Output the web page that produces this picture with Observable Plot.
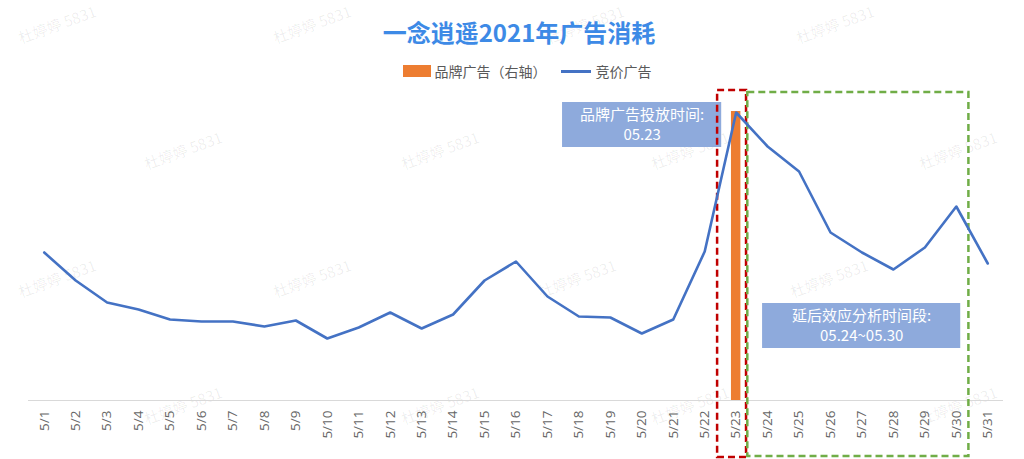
<!DOCTYPE html>
<html>
<head>
<meta charset="utf-8">
<script src="https://cdn.jsdelivr.net/npm/d3@7"></script>
<script src="https://cdn.jsdelivr.net/npm/@observablehq/plot@0.6"></script>
<style>
  html, body { margin: 0; padding: 0; background: #fff; }
  body { width: 1024px; height: 459px; position: relative; overflow: hidden;
         font-family: "Open Sans", "Noto Sans CJK SC", sans-serif; }
  #wm { position: absolute; left: 0; top: 0; width: 1024px; height: 459px; pointer-events: none; z-index: 0; }
  .wm { position: absolute; font-size: 15px; color: rgba(0,0,0,0.07); transform: translate(-50%,-50%) rotate(-20deg);
        white-space: nowrap; font-family: "Noto Sans CJK SC", sans-serif; }
  #main { position: relative; z-index: 1; }
  #title { height: 56px; line-height: 64px; text-align: center; font-size: 24px; font-weight: bold;
           color: #3d8ae6; font-family: "Noto Sans CJK SC", sans-serif; padding-left: 14px; box-sizing: border-box; }
  #legend { height: 30px; display: flex; justify-content: center; align-items: center; font-size: 14px; color: #595959;
            font-family: "Noto Sans CJK SC", sans-serif; padding-left: 30px; box-sizing: border-box; }
  .sw-bar { display: inline-block; width: 28px; height: 12px; background: #ed7d31; margin-right: 4px; }
  .sw-line { display: inline-block; width: 30px; height: 3px; background: #4472c4; margin: 0 5px 0 14px; }
  svg { display: block; overflow: visible; }
</style>
</head>
<body>
<div id="wm"></div>
<div id="main">
  <div id="title"></div>
  <div id="legend"></div>
  <div id="chart"></div>
</div>
<script>
// ---- data ----
const dates = ["5/1","5/2","5/3","5/4","5/5","5/6","5/7","5/8","5/9","5/10","5/11","5/12","5/13","5/14","5/15","5/16",
               "5/17","5/18","5/19","5/20","5/21","5/22","5/23","5/24","5/25","5/26","5/27","5/28","5/29","5/30","5/31"];
const bidValues = [148,120,98,91,81,79,79,74,80,62,73,88,72,86,120,139,
                   104,84,83,67,81,149,288,254,229,168,148,131,153,194,137];
const brandDates = ["5/23"];
const brandValues = [289];   // right axis
const rightAxisMax = 300;    // right axis aligned with left axis range
const leftAxisMax = 300;

const titleText = "一念逍遥2021年广告消耗";
const legendBrand = "品牌广告（右轴）";
const legendBid = "竞价广告";
const note1 = ["品牌广告投放时间:", "05.23"];
const note2 = ["延后效应分析时间段:", "05.24~05.30"];
const watermarkText = "杜婷婷 5831";

// ---- title / legend ----
document.getElementById("title").textContent = titleText;
document.getElementById("legend").innerHTML =
  `<span class="sw-bar"></span><span>${legendBrand}</span><span class="sw-line"></span><span>${legendBid}</span>`;

// ---- watermarks ----
const wmRows = [[24,[57,312,585,835]],[150,[183,440,690,958]],[278,[57,312,577,829]],[405,[183,440,690,958]]];
const wm = document.getElementById("wm");
for (const [y, xs] of wmRows) for (const x of xs) {
  const s = document.createElement("div");
  s.className = "wm"; s.textContent = watermarkText;
  s.style.left = x + "px"; s.style.top = y + "px";
  wm.appendChild(s);
}

// ---- tables ----
const bid = dates.map((d, i) => ({i, date: d, value: bidValues[i]}));
const brand = brandDates.map((d, k) => ({i: dates.indexOf(d), value: brandValues[k] * leftAxisMax / rightAxisMax}));
const iBrand = dates.indexOf("5/23");
const iEnd = dates.indexOf("5/30");

const boxes = [
  {x1: 16.48, x2: 21.54, y1: 253, y2: 298, lines: note1, ly: [285, 265]},
  {x1: 22.84, x2: 29.14, y1: 52, y2: 97, lines: note2, ly: [84, 64]}
];
const boxTexts = boxes.flatMap(b => b.lines.map((t, k) => ({x: (b.x1 + b.x2) / 2, y: b.ly[k], t})));

const dashed = [
  {x1: iBrand - 0.59, x2: iBrand + 0.33, y1: -57, y2: 310, c: "#c00000"},
  {x1: iBrand + 0.37, x2: iEnd + 0.4, y1: -56, y2: 308, c: "#70ad47"}
];

const chart = Plot.plot({
  width: 1024, height: 373,
  marginLeft: 28, marginRight: 21, marginTop: 14, marginBottom: 59,
  style: {fontFamily: "'Open Sans', 'Noto Sans CJK SC', sans-serif", background: "transparent"},
  x: {type: "linear", domain: [-0.5, dates.length - 0.5], axis: null},
  y: {domain: [0, leftAxisMax], axis: null},
  marks: [
    Plot.ruleY([0], {stroke: "#d9d9d9", strokeWidth: 1.2}),
    Plot.axisX({ticks: d3.range(dates.length), tickFormat: i => dates[i], tickRotate: -90, tickSize: 0,
                tickPadding: 10, fontSize: 13.5, color: "#666666"}),
    Plot.rectY(brand, {x1: d => d.i - 0.15, x2: d => d.i + 0.15, y1: 0, y2: "value", fill: "#ed7d31"}),
    Plot.rect(boxes, {x1: "x1", x2: "x2", y1: "y1", y2: "y2", fill: "#8eaadc"}),
    Plot.text(boxTexts, {x: "x", y: "y", text: "t", fill: "white", fontSize: 15,
                         fontFamily: "'Noto Sans CJK SC', sans-serif"}),
    Plot.rect(dashed, {x1: "x1", x2: "x2", y1: "y1", y2: "y2", fill: "none", stroke: "c",
                       strokeWidth: 2.5, strokeDasharray: "7,4"}),
    Plot.line(bid, {x: "i", y: "value", stroke: "#4472c4", strokeWidth: 2.6, strokeLinejoin: "round"})
  ]
});
document.getElementById("chart").appendChild(chart);
</script>
</body>
</html>
